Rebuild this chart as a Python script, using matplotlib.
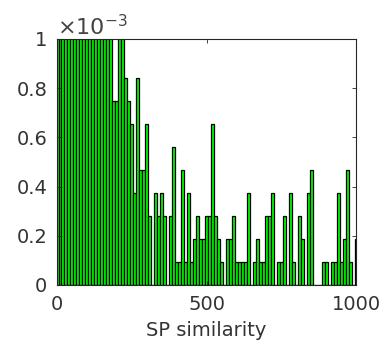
import numpy as np
import matplotlib
matplotlib.use('Agg')
from matplotlib import pyplot as plt

# Histogram of SP similarity (bin centres every 10, counts per bin):
bin_centers = np.arange(0, 1010, 10)
counts = [14, 26, 24, 22, 25, 21, 23, 20, 19, 22, 18, 17, 19, 16, 15, 17, 14, 13, 12,
          8, 8, 12, 11, 9, 8, 7, 4, 9, 5, 5, 7,
          3, 0, 4, 3, 4, 3, 0, 3, 6, 1,
          1, 5, 1, 4, 1, 2, 3, 2, 2, 3,
          3, 7, 3, 2, 1, 0, 2, 2, 3, 1,
          1, 1, 1, 4, 0, 1, 2, 1, 1, 3,
          3, 4, 0, 1, 1, 3, 0, 4, 1, 0,
          3, 2, 0, 4, 5, 0, 0, 0, 1, 1,
          0, 1, 1, 4, 1, 2, 5, 1, 0, 2]
n_samples = 1071
bin_width = 10
density = np.array(counts) / (n_samples * bin_width)

y_ticks = [0, 0.2e-3, 0.4e-3, 0.6e-3, 0.8e-3, 1e-3]
y_labels = ['0', '0.2', '0.4', '0.6', '0.8', '1']
x_ticks = [0, 500, 1000]
x_labels = ['0', '500', '1000']

axis_color = '#262626'
text_color = '#333333'

fig = plt.figure(figsize=(3.86, 3.49), dpi=100)
ax = fig.add_axes([0.1477, 0.1834, 0.7746, 0.7049])

ax.bar(bin_centers, density, width=bin_width, color='#00ff00',
       edgecolor='black', linewidth=0.9)

ax.set_xlim(0, 1000)
ax.set_ylim(0, 1e-3)
ax.set_xticks(x_ticks)
ax.set_xticklabels(x_labels)
ax.set_yticks(y_ticks)
ax.set_yticklabels(y_labels)

ax.tick_params(direction='in', length=3, width=0.6, top=True, right=True,
               labelsize=14, color=axis_color, labelcolor=text_color, pad=7)
for spine in ax.spines.values():
    spine.set_color(axis_color)
    spine.set_linewidth(0.8)

ax.set_xlabel('SP similarity', fontsize=14, color=text_color, labelpad=5)
ax.text(0.0, 1.0, r'$\times\mathregular{10^{-3}}$', transform=ax.transAxes,
        fontsize=16, color='#444444', ha='left', va='bottom')

fig.savefig('out.png', dpi=100)
